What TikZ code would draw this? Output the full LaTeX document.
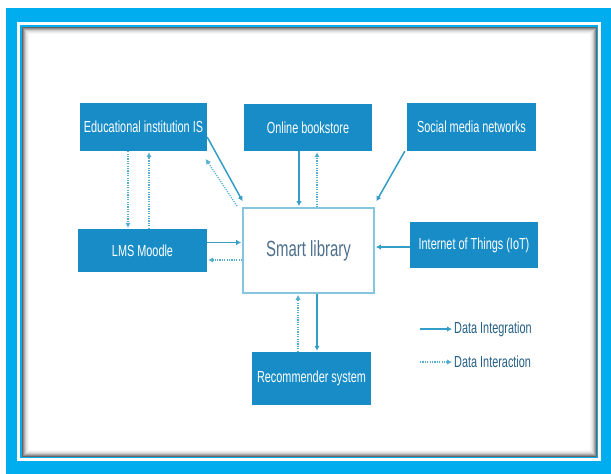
\documentclass[tikz,border=0pt]{standalone}
\usepackage{fontspec}
\setmainfont{Liberation Sans}[FakeStretch=0.68]
\usetikzlibrary{arrows.meta}
\definecolor{frameblue}{RGB}{0,174,239}
\definecolor{boxblue}{RGB}{24,140,199}
\definecolor{arrblue}{RGB}{52,158,199}
\definecolor{libtext}{RGB}{78,112,140}
\definecolor{legtext}{RGB}{38,96,134}
\tikzset{
  blk/.style={fill=boxblue, text=white, inner sep=0pt, font=\fontsize{16}{18}\selectfont},
  libbox/.style={draw=arrblue!60, line width=1.8pt, fill=white, text=libtext, font=\fontsize{22}{24}\selectfont},
  legtxt/.style={text=legtext, inner sep=1pt, anchor=west, font=\fontsize{16}{18}\selectfont},
  integ/.style={arrblue, line width=1.5pt, -{Latex[length=5pt,width=5.5pt]}, shorten >=1pt},
  inter/.style={arrblue!85, line width=1.2pt, dash pattern=on 1.2pt off 1.2pt, -{Latex[length=5pt,width=5.5pt]}, shorten >=1pt},
}
\begin{document}
\begin{tikzpicture}[x=1pt,y=-1pt]
\useasboundingbox (0,0) rectangle (611,474);
\fill[frameblue] (6,8) rectangle (611,474);
\draw[white, line width=2.5pt] (18.5,23.5) rectangle (599.5,459.5);
\fill[white] (22,27) rectangle (597,457);
\foreach \i/\o in {0/0.6,1/0.45,2/0.32,3/0.2,4/0.12,5/0.07,6/0.03}
  \draw[black, opacity=\o, line width=1pt] (22.5+\i,27.5+\i) rectangle (596.5-\i,456.5-\i);
\def\blk#1#2#3#4#5#6{
\node[blk, minimum width=#4pt, minimum height=#5pt] (#1) at (#2,#3) {#6};
}
\blk{edu}{143.5}{127}{127}{48}{Educational institution IS}
\blk{book}{308}{127.5}{128}{47}{Online bookstore}
\blk{soc}{471.5}{127}{129}{48}{Social media networks}
\blk{lms}{142.5}{250.5}{129}{43}{LMS Moodle}
\blk{iot}{474}{245}{128}{46}{Internet of Things (IoT)}
\blk{rec}{311.5}{378.5}{119}{53}{Recommender system}
\node[libbox, minimum width=131pt, minimum height=85pt] (lib) at (308.5,250.5) {Smart library};
\draw[inter] ([xshift=-15.5pt]edu.south) -- ([xshift=-15.5pt]edu.south |- lms.north);
\draw[inter] ([xshift=5.5pt]edu.south |- lms.north) -- ([xshift=5.5pt]edu.south);
\draw[integ] ([yshift=-10pt]edu.east) -- ([xshift=1pt,yshift=5pt]lib.north west);
\draw[inter] ([xshift=-5pt,yshift=1pt]lib.north west) -- ([xshift=-2pt,yshift=-7pt]edu.south east);
\draw[integ] ([xshift=-9pt]book.south) -- ([xshift=-9pt]book.south |- lib.north);
\draw[inter] ([xshift=9pt]book.south |- lib.north) -- ([xshift=9pt]book.south);
\draw[integ] ([xshift=-2pt]soc.south west) -- ([xshift=1pt,yshift=5pt]lib.north east);
\draw[integ] ([yshift=8pt]lms.east) -- ([yshift=8pt]lms.east -| lib.west);
\draw[inter] ([yshift=-9.5pt]lms.east -| lib.west) -- ([yshift=-9.5pt]lms.east);
\draw[integ] ([yshift=-2pt]iot.west) -- ([yshift=-2pt]iot.west -| lib.east);
\draw[inter] ([xshift=-13.5pt]rec.north) -- ([xshift=-13.5pt]rec.north |- lib.south);
\draw[integ] ([xshift=5.5pt]rec.north |- lib.south) -- ([xshift=5.5pt]rec.north);
\node[legtxt] (lint) at (453,329) {Data Integration};
\node[legtxt] (lact) at (453,362) {Data Interaction};
\coordinate (lsa) at (420,329);
\coordinate (lsb) at (420,362);
\draw[integ] (lsa) -- (lint.west);
\draw[inter] (lsb) -- (lact.west);
\end{tikzpicture}
\end{document}
